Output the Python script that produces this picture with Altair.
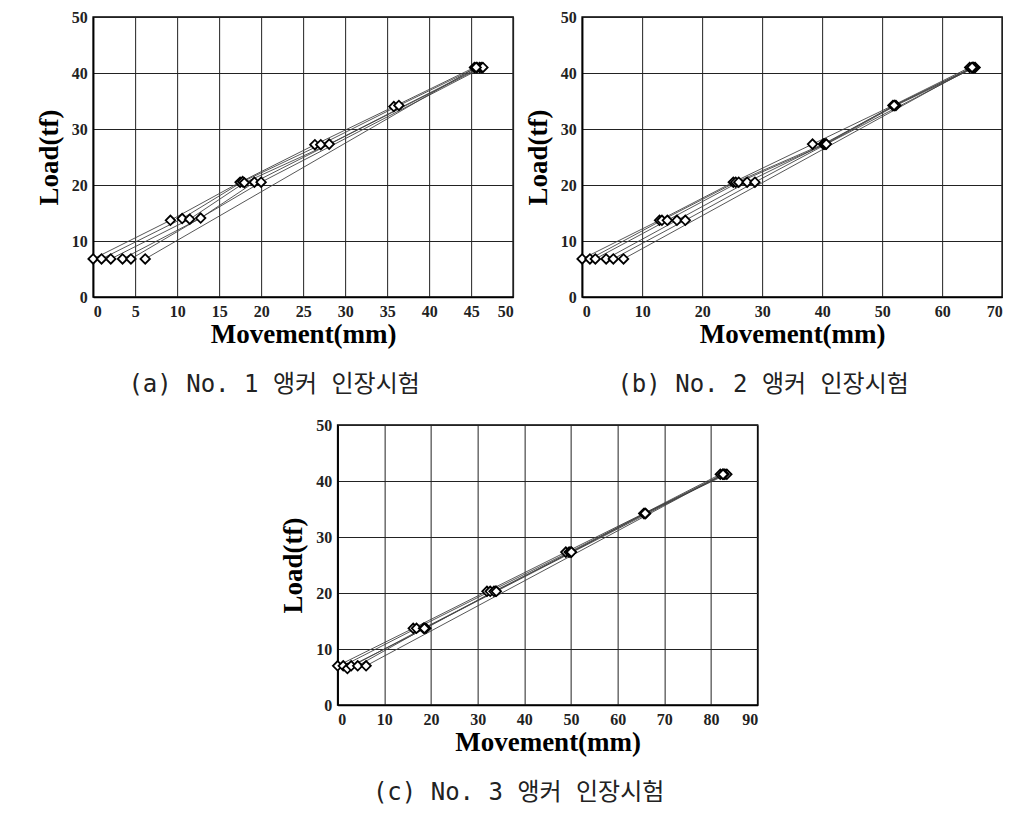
import altair as alt
import pandas as pd

# ---- Panel (a): No. 1 anchor ----
a_x = [
    [0.0, 9.2, 17.5, 26.4, 35.8, 45.4],
    [1.0, 10.6, 17.8, 27.1, 36.4, 45.7],
    [2.1, 11.5, 18.0, 28.1, 46.0],
    [3.5, 12.8, 19.2, 46.2],
    [4.5, 20.0, 46.4],
    [6.2, 45.6],
]
a_y = [
    [6.8, 13.7, 20.5, 27.2, 34.0, 41.0],
    [6.8, 14.0, 20.6, 27.2, 34.2, 41.0],
    [6.8, 13.9, 20.4, 27.3, 41.0],
    [6.8, 14.1, 20.5, 41.0],
    [6.8, 20.5, 41.0],
    [6.8, 41.0],
]
a_xticks = [0, 5, 10, 15, 20, 25, 30, 35, 40, 45, 50]

# ---- Panel (b): No. 2 anchor ----
b_x = [
    [0.0, 12.9, 25.2, 38.4, 51.8, 64.6],
    [1.3, 13.3, 25.6, 40.2, 52.1, 65.0],
    [2.2, 14.2, 26.1, 40.6, 52.3, 65.5],
    [4.0, 15.8, 27.5, 40.4, 52.0, 65.2],
    [5.2, 17.2, 28.8, 40.7, 65.3],
    [6.9, 65.0],
]
b_y = [
    [6.8, 13.7, 20.5, 27.3, 34.2, 41.0],
    [6.8, 13.7, 20.5, 27.3, 34.2, 41.0],
    [6.8, 13.7, 20.5, 27.3, 34.2, 41.0],
    [6.8, 13.7, 20.5, 27.3, 34.2, 41.0],
    [6.8, 13.7, 20.5, 27.3, 41.0],
    [6.8, 41.0],
]
b_xticks = [0, 10, 20, 30, 40, 50, 60, 70]

# ---- Panel (c): No. 3 anchor ----
c_x = [
    [0.0, 16.2, 32.0, 48.9, 65.6, 82.0],
    [1.2, 16.9, 32.7, 49.6, 65.8, 82.5],
    [2.1, 18.4, 33.8, 50.0, 66.0, 83.0],
    [2.9, 18.9, 33.5, 50.1, 65.9, 83.4],
    [4.3, 18.6, 34.0, 82.8],
    [6.1, 82.6],
]
c_y = [
    [7.0, 13.7, 20.3, 27.3, 34.2, 41.2],
    [7.0, 13.7, 20.3, 27.3, 34.2, 41.2],
    [6.5, 13.7, 20.3, 27.3, 34.2, 41.2],
    [7.0, 13.7, 20.3, 27.3, 34.2, 41.2],
    [7.0, 13.7, 20.3, 41.2],
    [7.0, 41.2],
]
c_xticks = [0, 10, 20, 30, 40, 50, 60, 70, 80, 90]

y_ticks = [0, 10, 20, 30, 40, 50]

captions = ["(a) No. 1 앵커 인장시험", "(b) No. 2 앵커 인장시험", "(c) No. 3 앵커 인장시험"]

SERIF = "Liberation Serif"
CAP_FONT = "DejaVu Sans Mono, Noto Sans CJK KR"


def to_df(xs, ys):
    rows = []
    for i, (lx, ly) in enumerate(zip(xs, ys)):
        for j, (xv, yv) in enumerate(zip(lx, ly)):
            rows.append({"x": xv, "y": yv, "line": i, "ord": j})
    return pd.DataFrame(rows)


def panel(xs, ys, xticks, caption):
    df = to_df(xs, ys)
    xmax = xticks[-1]
    xenc = alt.X(
        "x:Q",
        scale=alt.Scale(domain=[0, xmax], nice=False),
        axis=alt.Axis(values=xticks, title="Movement(mm)"),
    )
    yenc = alt.Y(
        "y:Q",
        scale=alt.Scale(domain=[0, 50], nice=False),
        axis=alt.Axis(values=y_ticks, title="Load(tf)"),
    )
    base = alt.Chart(df)
    lines = base.mark_line(color="#444444", strokeWidth=0.9).encode(
        x=xenc, y=yenc, detail="line:N", order="ord:Q"
    )
    pts = base.mark_point(
        shape="diamond", size=90, filled=True, fill="white",
        stroke="black", strokeWidth=1.8, opacity=1
    ).encode(x=xenc, y=yenc)
    return alt.layer(lines, pts).properties(
        width=420,
        height=280,
        title=alt.TitleParams(
            caption, orient="bottom", font=CAP_FONT, fontSize=24,
            fontWeight="normal", color="#222222", offset=26, anchor="middle", dx=-29
        ),
    )


pa = panel(a_x, a_y, a_xticks, captions[0])
pb = panel(b_x, b_y, b_xticks, captions[1])
pc = panel(c_x, c_y, c_xticks, captions[2])

top = alt.hconcat(pa, pb, spacing=9)
chart = alt.vconcat(top, pc, spacing=18, center=True).properties(
    padding={"left": 26, "top": 0, "right": 0, "bottom": 0}
).configure_view(
    stroke="black", strokeWidth=1.5
).configure_axis(
    grid=True, gridColor="#222222", gridWidth=1, gridOpacity=1,
    domain=True, domainColor="black", domainWidth=1.5,
    ticks=False, labelPadding=6,
    labelFont=SERIF, labelFontSize=16, labelFontWeight="bold", labelColor="#222222",
    titleFont=SERIF, titleFontSize=27, titleFontWeight="bold", titleColor="black",
).configure_axisY(
    titlePadding=8
).configure_axisX(
    titlePadding=2
)

chart.save("out.html", embed_options={"renderer": "svg", "actions": False})
